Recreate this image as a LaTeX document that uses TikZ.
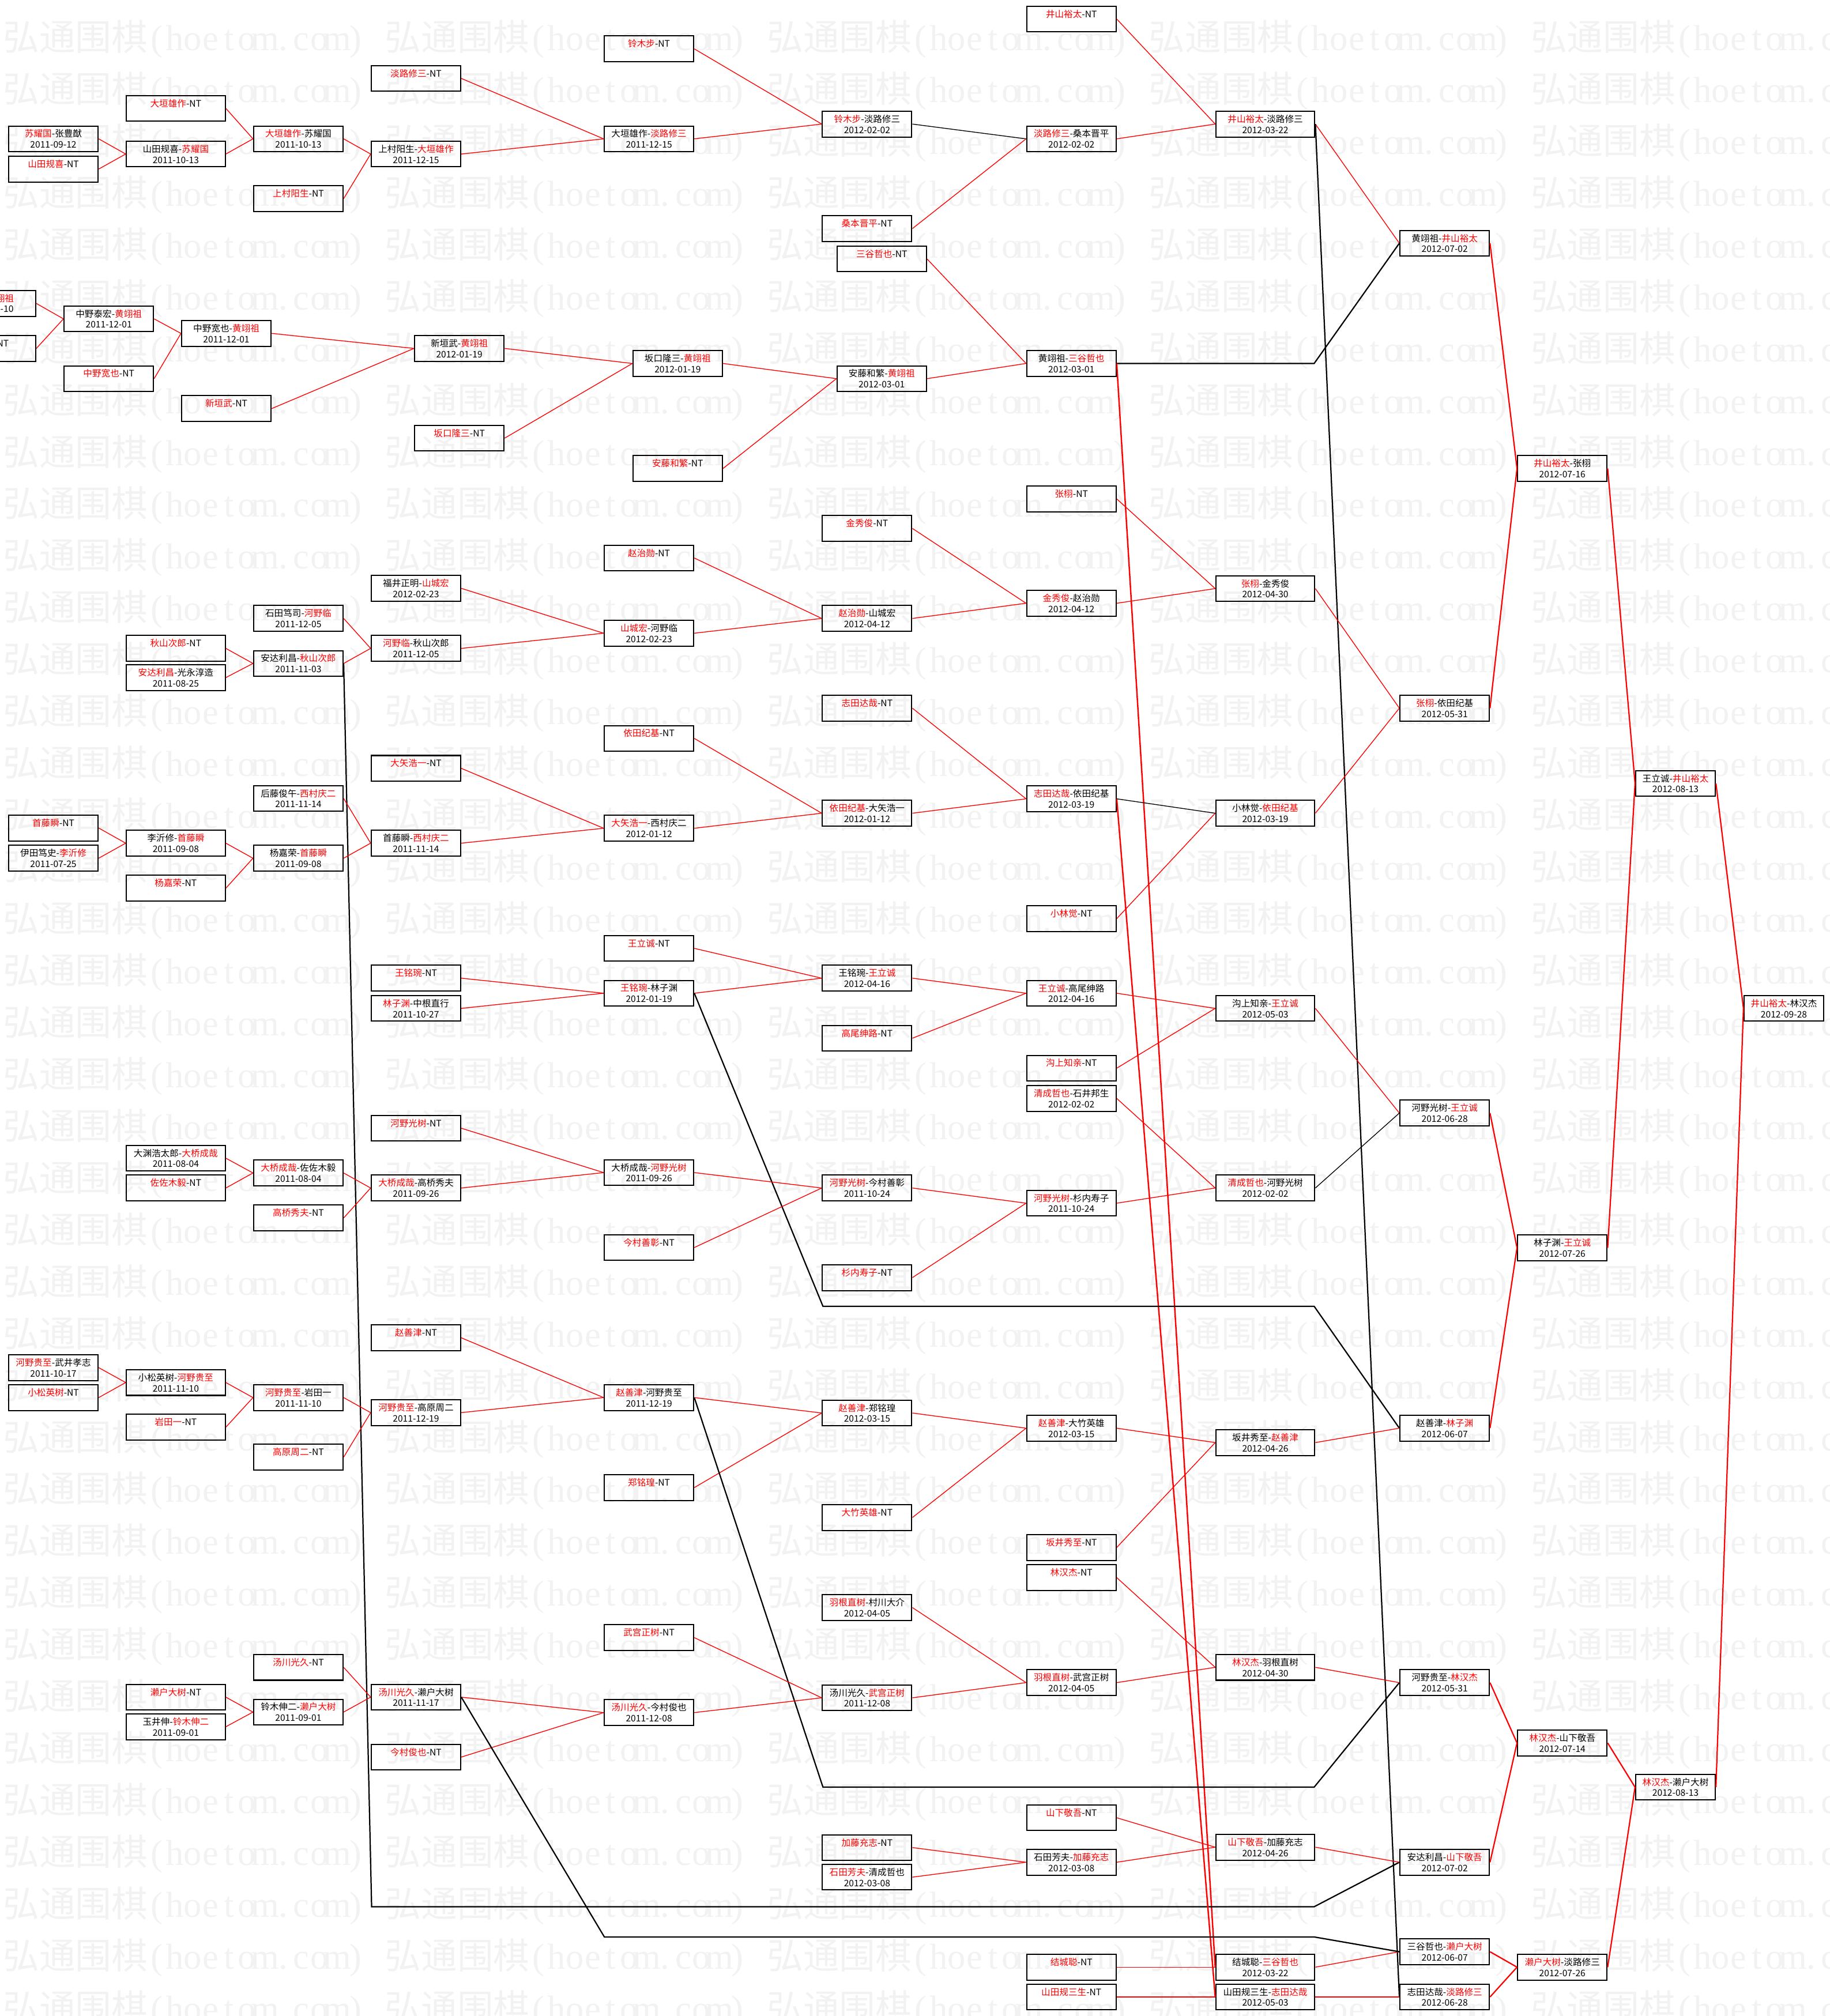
\documentclass[tikz,border=0pt]{standalone}
\usepackage{fontspec}
\setmainfont{Noto Sans CJK SC}
\newfontfamily\wmser{Liberation Serif}
\newcommand\rd[1]{\textcolor{red}{#1}}
\newcommand\nt[1]{\rd{#1}-NT\\\phantom{0}}
\newcommand\wmc[1]{\makebox[0.5em]{\wmser #1}}
\newcommand\wmk{弘通围棋\wmc{(}\wmc{h}\wmc{o}\wmc{e}\wmc{t}\wmc{o}\wmc{m}\wmc{.}\wmc{c}\wmc{o}\wmc{m}\wmc{)}}
\begin{document}
\begin{tikzpicture}[x=1pt,y=-1pt,
 bx/.style={draw, line width=0.9pt, rectangle, minimum width=69.6pt, minimum height=20pt, inner sep=0pt, align=center, font=\fontsize{7}{8.4}\selectfont},
 wide/.style={bx, minimum width=77pt},
 slim/.style={bx, minimum width=62pt},
 rl/.style={red, line width=0.6pt},
 rk/.style={red, line width=1pt},
 rlong/.style={red, line width=1.1pt},
 bl/.style={black, line width=0.6pt},
 bk/.style={black, line width=1pt},
 wm/.style={anchor=west, inner sep=0pt, text=black!5, font=\fontsize{28.1}{30}\selectfont},
 frag/.style={inner sep=0pt, font=\fontsize{7}{8.4}\selectfont}]
\useasboundingbox (0,0) rectangle (1423,1568);
\clip (0,0) rectangle (1423,1568);
% watermark
\foreach \j in {0,...,38}{\foreach \k in {0,...,4}{\node[wm] (wm-\j-\k) at ({2.3+297*\k},{30.4+40.33*\j}) {\wmk};}}
% ---------- top group ----------
\node[bx] (t1) at (323.5,61) {\nt{淡路修三}};
\node[wide] (t2) at (136.7,84.3) {\nt{大垣雄作}};
\node[bx] (t3) at (41.5,108) {\rd{苏耀国}-张豊猷\\2011-09-12};
\node[bx] (t4) at (41.5,131.5) {\nt{山田规喜}};
\node[wide] (t5) at (136.7,119.8) {山田规喜-\rd{苏耀国}\\2011-10-13};
\node[bx] (t6) at (232,108) {\rd{大垣雄作}-苏耀国\\2011-10-13};
\node[bx] (t7) at (232,154.5) {\nt{上村阳生}};
\node[bx] (t8) at (323.5,119.8) {上村阳生-\rd{大垣雄作}\\2011-12-15};
\node[bx] (t9) at (504.7,38) {\nt{铃木步}};
\node[bx] (t10) at (504.7,108) {大垣雄作-\rd{淡路修三}\\2011-12-15};
\node[bx] (t11) at (674.3,96.5) {\rd{铃木步}-淡路修三\\2012-02-02};
\node[bx] (t12) at (674.3,177.8) {\nt{桑本晋平}};
\node[bx] (t13) at (685.7,201.4) {\nt{三谷哲也}};
\node[bx] (t14) at (833.2,14.8) {\nt{井山裕太}};
\node[bx] (t15) at (833.2,108) {\rd{淡路修三}-桑本晋平\\2012-02-02};
\node[wide] (t16) at (984,96.5) {\rd{井山裕太}-淡路修三\\2012-03-22};
\node[bx] (t17) at (1123.5,189.2) {黄翊祖-\rd{井山裕太}\\2012-07-02};
\node[bx] (p1) at (-7,236) {};
\node[frag, anchor=east, text=red] (p1a) at (11,232) {翊祖};
\node[frag, anchor=east] (p1b) at (10.7,240.4) {-10};
\node[bx] (p2) at (-7,271) {};
\node[frag, anchor=east] (p2a) at (7,267) {NT};
\node[bx] (t18) at (84.6,248) {中野泰宏-\rd{黄翊祖}\\2011-12-01};
\node[bx] (t19) at (84.6,294.5) {\nt{中野宽也}};
\node[bx] (t20) at (176,259.3) {中野宽也-\rd{黄翊祖}\\2011-12-01};
\node[bx] (t21) at (176,317.8) {\nt{新垣武}};
\node[bx] (t22) at (357.2,271) {新垣武-\rd{黄翊祖}\\2012-01-19};
\node[bx] (t23) at (357.2,340.8) {\nt{坂口隆三}};
\node[bx] (t24) at (527,282.7) {坂口隆三-\rd{黄翊祖}\\2012-01-19};
\node[bx] (t25) at (527,364.4) {\nt{安藤和繁}};
\node[bx] (t26) at (685.7,294.5) {安藤和繁-\rd{黄翊祖}\\2012-03-01};
\node[bx] (t27) at (833.2,282.7) {黄翊祖-\rd{三谷哲也}\\2012-03-01};
\node[bx] (t28) at (833.2,388) {\nt{张栩}};
\node[bx] (t29) at (674.3,411) {\nt{金秀俊}};
\node[bx] (t30) at (504.7,434) {\nt{赵治勋}};
\node[bx] (t31) at (1215,364.4) {\rd{井山裕太}-张栩\\2012-07-16};
\node[bx] (t32) at (323.5,457.6) {福井正明-\rd{山城宏}\\2012-02-23};
\node[wide] (t33) at (984,457.8) {\rd{张栩}-金秀俊\\2012-04-30};
\node[bx] (t34) at (833.2,469.2) {\rd{金秀俊}-赵治勋\\2012-04-12};
\node[bx] (t35) at (232,481) {石田笃司-\rd{河野临}\\2011-12-05};
\node[bx] (t36) at (674.3,481) {\rd{赵治勋}-山城宏\\2012-04-12};
\node[bx] (t37) at (504.7,492.5) {\rd{山城宏}-河野临\\2012-02-23};
\node[wide] (t38) at (136.7,504.3) {\nt{秋山次郎}};
\node[bx] (t39) at (323.5,504.3) {\rd{河野临}-秋山次郎\\2011-12-05};
\node[bx] (t40) at (232,516) {安达利昌-\rd{秋山次郎}\\2011-11-03};
\node[wide] (t41) at (136.7,527) {\rd{安达利昌}-光永淳造\\2011-08-25};
% ---------- middle group ----------
\node[bx] (m1) at (674.3,550.8) {\nt{志田达哉}};
\node[bx] (m2) at (1123.5,550.8) {\rd{张栩}-依田纪基\\2012-05-31};
\node[bx] (m3) at (504.7,574.3) {\nt{依田纪基}};
\node[bx] (m4) at (323.5,597.6) {\nt{大矢浩一}};
\node[slim] (m5) at (1303,609.3) {王立诚-\rd{井山裕太}\\2012-08-13};
\node[bx] (m6) at (232,621) {后藤俊午-\rd{西村庆二}\\2011-11-14};
\node[bx] (m7) at (833.2,621.3) {\rd{志田达哉}-依田纪基\\2012-03-19};
\node[bx] (m8) at (674.3,632.5) {\rd{依田纪基}-大矢浩一\\2012-01-12};
\node[wide] (m9) at (984,632.5) {小林觉-\rd{依田纪基}\\2012-03-19};
\node[bx] (m10) at (41.5,644) {\nt{首藤瞬}};
\node[bx] (m11) at (504.7,644.2) {\rd{大矢浩一}-西村庆二\\2012-01-12};
\node[wide] (m12) at (136.7,655.8) {李沂修-\rd{首藤瞬}\\2011-09-08};
\node[bx] (m13) at (323.5,655.8) {首藤瞬-\rd{西村庆二}\\2011-11-14};
\node[bx] (m14) at (41.5,667.5) {伊田笃史-\rd{李沂修}\\2011-07-25};
\node[bx] (m15) at (232,667.5) {杨嘉荣-\rd{首藤瞬}\\2011-09-08};
\node[wide] (m16) at (136.7,690.8) {\nt{杨嘉荣}};
\node[bx] (m17) at (833.2,714.5) {\nt{小林觉}};
\node[bx] (m18) at (504.7,737.6) {\nt{王立诚}};
\node[bx] (m19) at (323.5,760.8) {\nt{王铭琬}};
\node[bx] (m20) at (674.3,760.8) {王铭琬-\rd{王立诚}\\2012-04-16};
\node[bx] (m21) at (504.7,772.5) {\rd{王铭琬}-林子渊\\2012-01-19};
\node[bx] (m22) at (833.2,772.5) {\rd{王立诚}-高尾绅路\\2012-04-16};
\node[bx] (m23) at (323.5,784.3) {\rd{林子渊}-中根直行\\2011-10-27};
\node[wide] (m24) at (984,784.3) {沟上知亲-\rd{王立诚}\\2012-05-03};
\node[slim] (m25) at (1387.3,784.3) {\rd{井山裕太}-林汉杰\\2012-09-28};
\node[bx] (m26) at (674.3,807.5) {\nt{高尾绅路}};
\node[bx] (m27) at (833.2,830.8) {\nt{沟上知亲}};
\node[bx] (m28) at (833.2,854.3) {\rd{清成哲也}-石井邦生\\2012-02-02};
\node[bx] (m29) at (1123.5,865.7) {河野光树-\rd{王立诚}\\2012-06-28};
\node[bx] (m30) at (323.5,877.5) {\nt{河野光树}};
\node[wide] (m31) at (136.7,900.8) {大渊浩太郎-\rd{大桥成哉}\\2011-08-04};
\node[bx] (m32) at (232,912.3) {\rd{大桥成哉}-佐佐木毅\\2011-08-04};
\node[bx] (m33) at (504.7,912) {大桥成哉-\rd{河野光树}\\2011-09-26};
\node[wide] (m34) at (136.7,924) {\nt{佐佐木毅}};
\node[bx] (m35) at (323.5,924) {\rd{大桥成哉}-高桥秀夫\\2011-09-26};
\node[bx] (m36) at (674.3,924) {\rd{河野光树}-今村善彰\\2011-10-24};
\node[wide] (m37) at (984,924) {\rd{清成哲也}-河野光树\\2012-02-02};
\node[bx] (m38) at (833.2,935.8) {\rd{河野光树}-杉内寿子\\2011-10-24};
\node[bx] (m39) at (232,947.3) {\nt{高桥秀夫}};
\node[bx] (m40) at (504.7,970.3) {\nt{今村善彰}};
\node[bx] (m41) at (1215,970.5) {林子渊-\rd{王立诚}\\2012-07-26};
\node[bx] (m42) at (674.3,993.7) {\nt{杉内寿子}};
\node[bx] (m43) at (323.5,1040.5) {\nt{赵善津}};
% ---------- bottom group ----------
\node[bx] (b1) at (41.5,1063.7) {\rd{河野贵至}-武井孝志\\2011-10-17};
\node[wide] (b2) at (136.7,1075.3) {小松英树-\rd{河野贵至}\\2011-11-10};
\node[bx] (b3) at (41.5,1087) {\nt{小松英树}};
\node[bx] (b4) at (232,1087) {\rd{河野贵至}-岩田一\\2011-11-10};
\node[bx] (b5) at (504.7,1087) {\rd{赵善津}-河野贵至\\2011-12-19};
\node[bx] (b6) at (323.5,1098.7) {\rd{河野贵至}-高原周二\\2011-12-19};
\node[bx] (b7) at (674.3,1099) {\rd{赵善津}-郑铭瑝\\2012-03-15};
\node[wide] (b8) at (136.7,1110) {\nt{岩田一}};
\node[bx] (b9) at (833.2,1110.8) {\rd{赵善津}-大竹英雄\\2012-03-15};
\node[bx] (b10) at (1123.5,1110.8) {赵善津-\rd{林子渊}\\2012-06-07};
\node[wide] (b11) at (984,1122) {坂井秀至-\rd{赵善津}\\2012-04-26};
\node[bx] (b12) at (232,1133.3) {\nt{高原周二}};
\node[bx] (b13) at (504.7,1157) {\nt{郑铭瑝}};
\node[bx] (b14) at (674.3,1180.3) {\nt{大竹英雄}};
\node[bx] (b15) at (833.2,1203.6) {\nt{坂井秀至}};
\node[bx] (b16) at (833.2,1227) {\nt{林汉杰}};
\node[bx] (b17) at (674.3,1250.3) {\rd{羽根直树}-村川大介\\2012-04-05};
\node[bx] (b18) at (504.7,1273.7) {\nt{武宫正树}};
\node[bx] (b19) at (232,1296.8) {\nt{汤川光久}};
\node[wide] (b20) at (984,1296.8) {\rd{林汉杰}-羽根直树\\2012-04-30};
\node[bx] (b21) at (833.2,1308.7) {\rd{羽根直树}-武宫正树\\2012-04-05};
\node[bx] (b22) at (1123.5,1308.7) {河野贵至-\rd{林汉杰}\\2012-05-31};
\node[wide] (b23) at (136.7,1320) {\nt{濑户大树}};
\node[bx] (b24) at (323.5,1320) {\rd{汤川光久}-濑户大树\\2011-11-17};
\node[bx] (b25) at (674.3,1320.5) {汤川光久-\rd{武宫正树}\\2011-12-08};
\node[bx] (b26) at (232,1331.6) {铃木伸二-\rd{濑户大树}\\2011-09-01};
\node[bx] (b27) at (504.7,1332) {\rd{汤川光久}-今村俊也\\2011-12-08};
\node[wide] (b28) at (136.7,1343) {玉井伸-\rd{铃木伸二}\\2011-09-01};
\node[bx] (b29) at (1215,1355.6) {\rd{林汉杰}-山下敬吾\\2012-07-14};
\node[bx] (b30) at (323.5,1366.6) {\nt{今村俊也}};
\node[slim] (b31) at (1303,1390) {\rd{林汉杰}-濑户大树\\2012-08-13};
\node[bx] (b32) at (833.2,1413.8) {\nt{山下敬吾}};
\node[bx] (b33) at (674.3,1437) {\nt{加藤充志}};
\node[wide] (b34) at (984,1436.7) {\rd{山下敬吾}-加藤充志\\2012-04-26};
\node[bx] (b35) at (833.2,1448.4) {石田芳夫-\rd{加藤充志}\\2012-03-08};
\node[bx] (b36) at (1123.5,1448.4) {安达利昌-\rd{山下敬吾}\\2012-07-02};
\node[bx] (b37) at (674.3,1460) {\rd{石田芳夫}-清成哲也\\2012-03-08};
\node[bx] (b38) at (1123.5,1518) {三谷哲也-\rd{濑户大树}\\2012-06-07};
\node[bx] (b39) at (833.2,1530) {\nt{结城聪}};
\node[wide] (b40) at (984,1530) {结城聪-\rd{三谷哲也}\\2012-03-22};
\node[bx] (b41) at (1215,1530) {\rd{濑户大树}-淡路修三\\2012-07-26};
\node[bx] (b42) at (833.2,1553.2) {\nt{山田规三生}};
\node[wide] (b43) at (984,1553.2) {山田规三生-\rd{志田达哉}\\2012-05-03};
\node[bx] (b44) at (1123.5,1553.2) {志田达哉-\rd{淡路修三}\\2012-06-28};
% waypoints of loser paths
\coordinate (w1a) at (289,1483);
\coordinate (w1b) at (1022,1483);
\coordinate (w2a) at (640,1016);
\coordinate (w2b) at (1022,1016);
\coordinate (w3a) at (640,1390);
\coordinate (w3b) at (1022,1390);
\coordinate (w4a) at (470,1506.5);
\coordinate (w4b) at (1022,1506.5);
\coordinate (w5) at (1022,282.7);
% ---------- connectors: top ----------
\draw[rl] (t3.east) -- (t5.west);
\draw[rl] (t4.east) -- (t5.west);
\draw[rl] (t2.east) -- (t6.west);
\draw[rl] (t5.east) -- (t6.west);
\draw[rl] (t6.east) -- (t8.west);
\draw[rl] (t7.east) -- (t8.west);
\draw[rl] (t1.east) -- (t10.west);
\draw[rl] (t8.east) -- (t10.west);
\draw[rl] (t9.east) -- (t11.west);
\draw[rl] (t10.east) -- (t11.west);
\draw[bl] (t11.east) -- (t15.west);
\draw[rl] (t12.east) -- (t15.west);
\draw[rl] (t14.east) -- (t16.west);
\draw[rl] (t15.east) -- (t16.west);
\draw[rl] (t16.east) -- (t17.west);
\draw[bk] (t16.east) -- (b44.west);
\draw[rl] (p1.east) -- (t18.west);
\draw[rl] (p2.east) -- (t18.west);
\draw[rl] (t18.east) -- (t20.west);
\draw[rl] (t19.east) -- (t20.west);
\draw[rl] (t20.east) -- (t22.west);
\draw[rl] (t21.east) -- (t22.west);
\draw[rl] (t22.east) -- (t24.west);
\draw[rl] (t23.east) -- (t24.west);
\draw[rl] (t24.east) -- (t26.west);
\draw[rl] (t25.east) -- (t26.west);
\draw[rl] (t26.east) -- (t27.west);
\draw[rl] (t13.east) -- (t27.west);
\draw[bk] (t27.east) -- (w5) -- (t17.west);
\draw[rlong] (t27.east) -- (b40.west);
\draw[rk] (t17.east) -- (t31.west);
\draw[rk] (m2.east) -- (t31.west);
\draw[rk] (t31.east) -- (m5.west);
\draw[rk] (m41.east) -- (m5.west);
\draw[rk] (m5.east) -- (m25.west);
\draw[rk] (b31.east) -- (m25.west);
\draw[rl] (t28.east) -- (t33.west);
\draw[rl] (t34.east) -- (t33.west);
\draw[rl] (t29.east) -- (t34.west);
\draw[rl] (t36.east) -- (t34.west);
\draw[rl] (t30.east) -- (t36.west);
\draw[rl] (t37.east) -- (t36.west);
\draw[rl] (t32.east) -- (t37.west);
\draw[rl] (t39.east) -- (t37.west);
\draw[rl] (t35.east) -- (t39.west);
\draw[rl] (t40.east) -- (t39.west);
\draw[rl] (t38.east) -- (t40.west);
\draw[rl] (t41.east) -- (t40.west);
\draw[bk] (t40.east) -- (w1a) -- (w1b) -- (b36.west);
\draw[rl] (m9.east) -- (m2.west);
\draw[rl] (t33.east) -- (m2.west);
% ---------- connectors: middle ----------
\draw[rl] (m1.east) -- (m7.west);
\draw[rl] (m8.east) -- (m7.west);
\draw[bl] (m7.east) -- (m9.west);
\draw[rl] (m17.east) -- (m9.west);
\draw[rlong] (m7.east) -- (b43.west);
\draw[rl] (m3.east) -- (m8.west);
\draw[rl] (m11.east) -- (m8.west);
\draw[rl] (m4.east) -- (m11.west);
\draw[rl] (m13.east) -- (m11.west);
\draw[rl] (m6.east) -- (m13.west);
\draw[rl] (m15.east) -- (m13.west);
\draw[rl] (m12.east) -- (m15.west);
\draw[rl] (m16.east) -- (m15.west);
\draw[rl] (m10.east) -- (m12.west);
\draw[rl] (m14.east) -- (m12.west);
\draw[rl] (m19.east) -- (m21.west);
\draw[rl] (m23.east) -- (m21.west);
\draw[rl] (m18.east) -- (m20.west);
\draw[rl] (m21.east) -- (m20.west);
\draw[bk] (m21.east) -- (w2a) -- (w2b) -- (b10.west);
\draw[rl] (m20.east) -- (m22.west);
\draw[rl] (m26.east) -- (m22.west);
\draw[rl] (m22.east) -- (m24.west);
\draw[rl] (m27.east) -- (m24.west);
\draw[rl] (m24.east) -- (m29.west);
\draw[bl] (m37.east) -- (m29.west);
\draw[rl] (m28.east) -- (m37.west);
\draw[rl] (m38.east) -- (m37.west);
\draw[rl] (m36.east) -- (m38.west);
\draw[rl] (m42.east) -- (m38.west);
\draw[rl] (m33.east) -- (m36.west);
\draw[rl] (m40.east) -- (m36.west);
\draw[rl] (m30.east) -- (m33.west);
\draw[rl] (m35.east) -- (m33.west);
\draw[rl] (m32.east) -- (m35.west);
\draw[rl] (m39.east) -- (m35.west);
\draw[rl] (m31.east) -- (m32.west);
\draw[rl] (m34.east) -- (m32.west);
\draw[rk] (m29.east) -- (m41.west);
\draw[rk] (b10.east) -- (m41.west);
% ---------- connectors: bottom ----------
\draw[rl] (b1.east) -- (b2.west);
\draw[rl] (b3.east) -- (b2.west);
\draw[rl] (b2.east) -- (b4.west);
\draw[rl] (b8.east) -- (b4.west);
\draw[rl] (b4.east) -- (b6.west);
\draw[rl] (b12.east) -- (b6.west);
\draw[rl] (m43.east) -- (b5.west);
\draw[rl] (b6.east) -- (b5.west);
\draw[rl] (b5.east) -- (b7.west);
\draw[rl] (b13.east) -- (b7.west);
\draw[bk] (b5.east) -- (w3a) -- (w3b) -- (b22.west);
\draw[rl] (b7.east) -- (b9.west);
\draw[rl] (b14.east) -- (b9.west);
\draw[rl] (b9.east) -- (b11.west);
\draw[rl] (b15.east) -- (b11.west);
\draw[rl] (b11.east) -- (b10.west);
\draw[rl] (b20.east) -- (b22.west);
\draw[rl] (b16.east) -- (b20.west);
\draw[rl] (b21.east) -- (b20.west);
\draw[rl] (b17.east) -- (b21.west);
\draw[rl] (b25.east) -- (b21.west);
\draw[rl] (b18.east) -- (b25.west);
\draw[rl] (b27.east) -- (b25.west);
\draw[rl] (b24.east) -- (b27.west);
\draw[rl] (b30.east) -- (b27.west);
\draw[rl] (b19.east) -- (b24.west);
\draw[rl] (b26.east) -- (b24.west);
\draw[rl] (b23.east) -- (b26.west);
\draw[rl] (b28.east) -- (b26.west);
\draw[rk] (b22.east) -- (b29.west);
\draw[rk] (b36.east) -- (b29.west);
\draw[rk] (b29.east) -- (b31.west);
\draw[rk] (b41.east) -- (b31.west);
\draw[rl] (b32.east) -- (b34.west);
\draw[rl] (b35.east) -- (b34.west);
\draw[rl] (b33.east) -- (b35.west);
\draw[rl] (b37.east) -- (b35.west);
\draw[rl] (b34.east) -- (b36.west);
\draw[rl] (b39.east) -- (b40.west);
\draw[rl] (b40.east) -- (b38.west);
\draw[bk] (b24.east) -- (w4a) -- (w4b) -- (b38.west);
\draw[rk] (b38.east) -- (b41.west);
\draw[rk] (b44.east) -- (b41.west);
\draw[rl] (b42.east) -- (b43.west);
\draw[rl] (b43.east) -- (b44.west);
\end{tikzpicture}
\end{document}
